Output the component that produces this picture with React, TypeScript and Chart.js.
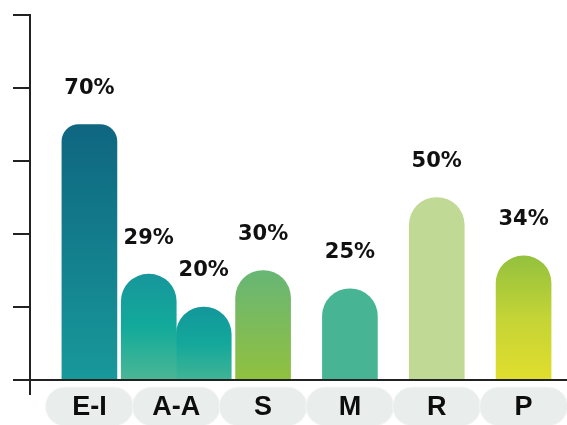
import React, { useEffect, useRef } from "react";
import { Chart, registerables } from "chart.js";

Chart.register(...registerables);

// ---- data ----
const categories = ["E-I", "A-A", "S", "M", "R", "P"];
const mainValues: (number | null)[] = [70, 29, 30, 25, 50, 34];
const extraValues: (number | null)[] = [null, 20, null, null, null, null];
const mainLabels = ["70%", "29%", "30%", "25%", "50%", "34%"];
const extraLabels = ["", "20%", "", "", "", ""];
const yTickValues = [0, 20, 40, 60, 80, 100];

// ---- styles ----
const mainColorStops: string[][] = [
  ["#0f6680", "#137f8d", "#18999a"],
  ["#17969b", "#12aa9b", "#4bb795"],
  ["#67b675", "#7dbb5a", "#90c13f"],
  ["#47b594", "#47b594"],
  ["#c0d995", "#c0d995"],
  ["#93c13e", "#c4d436", "#e1de2d"],
];
const extraColorStops: string[][] = [
  ["#000", "#000"],
  ["#13979b", "#13a89b", "#41b495"],
  ["#000", "#000"],
  ["#000", "#000"],
  ["#000", "#000"],
  ["#000", "#000"],
];

function gradientFor(stopsArr: string[][]) {
  return (ctx: any) => {
    const stops = stopsArr[ctx.dataIndex] || ["#999", "#999"];
    const chart = ctx.chart;
    const v = ctx.raw;
    if (!chart.chartArea || v == null || !chart.scales.y) return stops[0];
    const ys = chart.scales.y;
    const top = ys.getPixelForValue(v);
    const bottom = ys.getPixelForValue(0);
    if (!isFinite(top) || !isFinite(bottom) || top === bottom) return stops[0];
    const g = chart.ctx.createLinearGradient(0, top, 0, bottom);
    stops.forEach((c, i) => g.addColorStop(i / (stops.length - 1), c));
    return g;
  };
}

const radiusFor = (ctx: any) => {
  const r = ctx.dataIndex === 0 ? 17 : 28;
  return { topLeft: r, topRight: r, bottomLeft: 0, bottomRight: 0 };
};

const axesPlugin = {
  id: "customAxes",
  afterDatasetsDraw(chart: any) {
    const { ctx, chartArea } = chart;
    const ys = chart.scales.y;
    const axisX = 30;
    const tickLen = 17;
    ctx.save();
    ctx.strokeStyle = "#222";
    ctx.lineWidth = 2;
    ctx.lineCap = "butt";
    ctx.beginPath();
    ctx.moveTo(axisX, ys.getPixelForValue(yTickValues[yTickValues.length - 1]) - 1);
    ctx.lineTo(axisX, chartArea.bottom + 15);
    yTickValues.forEach((v) => {
      const py = ys.getPixelForValue(v);
      ctx.moveTo(axisX - tickLen, py);
      ctx.lineTo(axisX, py);
    });
    const by = ys.getPixelForValue(0);
    ctx.moveTo(axisX, by);
    ctx.lineTo(chart.width, by);
    ctx.stroke();
    ctx.restore();
  },
};

const labelsPlugin = {
  id: "barLabels",
  afterDatasetsDraw(chart: any) {
    const { ctx } = chart;
    const texts = [mainLabels, extraLabels];
    ctx.save();
    ctx.fillStyle = "#111";
    ctx.font = "bold 21px 'DejaVu Sans'";
    ctx.textAlign = "center";
    ctx.textBaseline = "middle";
    chart.data.datasets.forEach((ds: any, di: number) => {
      const meta = chart.getDatasetMeta(di);
      meta.data.forEach((el: any, i: number) => {
        if (ds.data[i] == null) return;
        ctx.fillText(texts[di][i], el.x, el.y - 36);
      });
    });
    ctx.restore();
  },
};

const pillsPlugin = {
  id: "categoryPills",
  afterDraw(chart: any) {
    const { ctx } = chart;
    const xs = chart.scales.x;
    const pillW = 88;
    const pillH = 39;
    const top = 387;
    const r = pillH / 2;
    ctx.save();
    categories.forEach((c, i) => {
      const cx = xs.getPixelForTick(i);
      const left = cx - pillW / 2;
      ctx.beginPath();
      ctx.moveTo(left + r, top);
      ctx.lineTo(left + pillW - r, top);
      ctx.arc(left + pillW - r, top + r, r, -Math.PI / 2, Math.PI / 2);
      ctx.lineTo(left + r, top + pillH);
      ctx.arc(left + r, top + r, r, Math.PI / 2, (3 * Math.PI) / 2);
      ctx.closePath();
      ctx.fillStyle = "#e9edec";
      ctx.fill();
      ctx.strokeStyle = "#f6f8f7";
      ctx.lineWidth = 1;
      ctx.stroke();
    });
    ctx.fillStyle = "#0d0d0d";
    ctx.font = "bold 27px 'Liberation Sans'";
    ctx.textAlign = "center";
    ctx.textBaseline = "middle";
    categories.forEach((c, i) => {
      const cx = xs.getPixelForTick(i);
      ctx.fillText(c, cx, top + pillH / 2 + 1);
    });
    ctx.restore();
  },
};

export default function App() {
  const ref = useRef<HTMLCanvasElement | null>(null);

  useEffect(() => {
    if (!ref.current) return;
    const chart = new Chart(ref.current, {
      type: "bar",
      data: {
        labels: categories,
        datasets: [
          {
            data: mainValues,
            backgroundColor: gradientFor(mainColorStops),
            borderRadius: radiusFor,
            borderSkipped: false,
            barThickness: 55,
            skipNull: true,
          } as any,
          {
            data: extraValues,
            backgroundColor: gradientFor(extraColorStops),
            borderRadius: radiusFor,
            borderSkipped: false,
            barThickness: 55,
            skipNull: true,
          } as any,
        ],
      },
      options: {
        responsive: false,
        animation: false,
        layout: { padding: { left: 46, top: 15, bottom: 45, right: 0 } },
        plugins: {
          legend: { display: false },
          tooltip: { enabled: false },
        },
        scales: {
          x: { display: false, offset: true, grid: { display: false } },
          y: { display: false, min: 0, max: 100 },
        },
      },
      plugins: [axesPlugin, labelsPlugin, pillsPlugin],
    });
    return () => chart.destroy();
  }, []);

  return (
    <div style={{ position: "fixed", left: 0, top: 0, width: 567, height: 425, background: "#fff" }}>
      <canvas ref={ref} width={567} height={425} style={{ display: "block" }} />
    </div>
  );
}
